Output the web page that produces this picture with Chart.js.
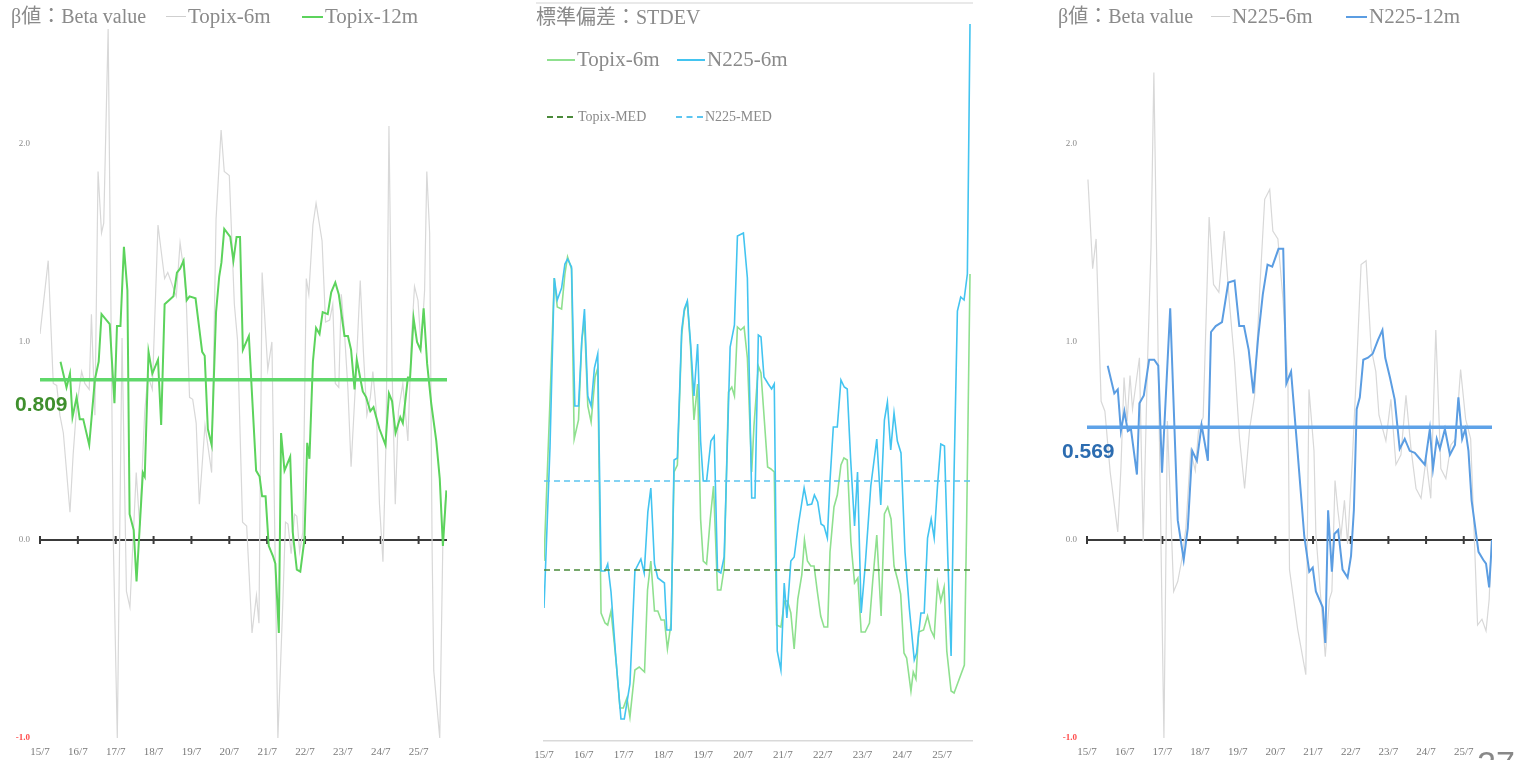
<!DOCTYPE html>
<html>
<head>
<meta charset="utf-8">
<script src="https://cdn.jsdelivr.net/npm/chart.js@4.4.1/dist/chart.umd.min.js"></script>
<style>
body { margin: 0; background: #fff; width: 1520px; height: 760px; overflow: hidden; position: relative; }
canvas { position: absolute; top: 0; }
.t { position: absolute; white-space: nowrap; line-height: 1; color: #8a8a8a; font-family: "Liberation Serif", "Noto Sans CJK JP", serif; }
.k { position: absolute; height: 0; }
</style>
</head>
<body>

<canvas id="beta-topix" width="460" height="760" style="left:0px"></canvas>
<canvas id="stdev" width="470" height="760" style="left:520px"></canvas>
<canvas id="beta-n225" width="473" height="760" style="left:1047px"></canvas>

<!-- leyendas -->
<div class="t" style="left:11px;top:6px;font-size:20px">β値：Beta value</div>
<div class="k" style="left:166px;top:16px;width:20px;border-top:1px solid #cfcfcf"></div>
<div class="t" style="left:188px;top:6px;font-size:21px">Topix-6m</div>
<div class="k" style="left:302px;top:16px;width:21px;border-top:2px solid #5cd35c"></div>
<div class="t" style="left:325px;top:6px;font-size:21px">Topix-12m</div>

<div class="t" style="left:536px;top:7px;font-size:20px">標準偏差：STDEV</div>
<div class="k" style="left:547px;top:59px;width:28px;border-top:2px solid #8fe08f"></div>
<div class="t" style="left:577px;top:49px;font-size:21px">Topix-6m</div>
<div class="k" style="left:677px;top:59px;width:28px;border-top:2px solid #43c4f0"></div>
<div class="t" style="left:707px;top:49px;font-size:21px">N225-6m</div>
<div class="k" style="left:547px;top:116px;width:26px;border-top:2px dashed #4a8a3a"></div>
<div class="t" style="left:578px;top:110px;font-size:14px">Topix-MED</div>
<div class="k" style="left:676px;top:116px;width:27px;border-top:2px dashed #5cc5f0"></div>
<div class="t" style="left:705px;top:110px;font-size:14px">N225-MED</div>

<div class="t" style="left:1058px;top:6px;font-size:20px">β値：Beta value</div>
<div class="k" style="left:1211px;top:16px;width:19px;border-top:1px solid #cfcfcf"></div>
<div class="t" style="left:1232px;top:6px;font-size:21px">N225-6m</div>
<div class="k" style="left:1346px;top:16px;width:21px;border-top:2px solid #5b9de2"></div>
<div class="t" style="left:1369px;top:6px;font-size:21px">N225-12m</div>

<div class="t" style="left:1477px;top:746px;font-size:34px;font-family:'Liberation Sans',sans-serif;color:#888">27</div>

<script>
// Eje x: meses desde 2015/07
var yearTickMonths = [0, 12, 24, 36, 48, 60, 72, 84, 96, 108, 120];
var yearLabels = ['15/7', '16/7', '17/7', '18/7', '19/7', '20/7', '21/7', '22/7', '23/7', '24/7', '25/7'];

// Beta Topix 6m
var topix6mMonths = [0, 2.6, 4.2, 5.3, 6.3, 7.4, 9.5, 10.5, 11.6, 13.2,
    14.2, 15.6, 16.3, 17.4, 18.4, 19.5, 20.2, 21.6, 23.2, 24.5,
    26.0, 27.4, 28.5, 30.5, 31.6, 33.2, 34.2, 35.6, 37.4, 38.4,
    39.5, 40.5, 42.1, 43.2, 44.4, 45.5, 46.3, 47.4, 48.4, 49.5,
    50.5, 52.3, 54.4, 55.8, 57.4, 58.4, 60.0, 61.6, 62.6, 64.2,
    65.5, 66.3, 67.2, 68.6, 69.4, 70.4, 72.2, 73.5, 75.4, 77.0,
    77.8, 78.6, 79.6, 80.7, 81.4, 82.3, 83.3, 84.4, 85.2, 86.5,
    87.5, 89.4, 90.5, 91.8, 92.8, 93.6, 94.7, 95.5, 96.5, 97.6,
    98.6, 100.0, 101.5, 102.5, 103.6, 104.7, 105.5, 106.6, 107.6, 108.7,
    109.7, 110.6, 111.6, 112.6, 113.6, 115.0, 116.6, 117.7, 118.7, 119.8,
    120.8, 121.9, 122.6, 123.5, 124.3, 124.8, 126.7, 127.7, 128.5];
var topix6mValues = [1.04, 1.41, 0.79, 0.78, 0.63, 0.54, 0.14, 0.43, 0.67, 0.85,
    0.79, 0.76, 1.14, 0.63, 1.86, 1.55, 1.60, 2.58, 0.02, -1.0,
    1.02, -0.26, -0.34, 0.34, 0.07, 0.65, 0.83, 0.76, 1.59, 1.46,
    1.32, 1.35, 1.28, 1.23, 1.50, 1.37, 1.24, 0.72, 0.71, 0.59,
    0.18, 0.58, 0.34, 1.62, 2.07, 1.86, 1.84, 1.19, 1.01, 0.09,
    0.07, -0.18, -0.47, -0.28, -0.42, 1.35, 0.86, 1.00, -1.0, -0.30,
    0.09, 0.08, -0.07, 0.13, 0.12, -0.06, 0.04, 1.32, 1.24, 1.59,
    1.70, 1.51, 1.10, 1.11, 1.19, 0.79, 0.77, 1.24, 1.05, 0.76,
    0.37, 0.79, 1.31, 0.95, 0.63, 0.72, 0.85, 0.65, 0.18, -0.11,
    0.52, 2.09, 0.85, 0.18, 0.65, 0.79, 0.50, 1.01, 1.28, 1.21,
    0.97, 1.26, 1.86, 1.55, -0.07, -0.66, -1.0, 0.0, 0.20];

// Beta Topix 12m
var topix12mMonths = [6.5, 8.4, 9.5, 10.3, 11.6, 12.6, 13.7, 15.6, 17.4, 18.6,
    19.5, 22.1, 23.6, 24.4, 25.5, 26.6, 27.7, 28.4, 29.7, 30.6,
    32.6, 33.2, 34.4, 35.6, 37.4, 38.4, 39.5, 42.3, 43.4, 44.4,
    45.5, 46.5, 47.4, 49.3, 51.4, 52.2, 53.2, 54.4, 55.8, 56.8,
    57.5, 58.4, 60.3, 61.3, 62.3, 63.4, 64.3, 66.2, 68.5, 69.6,
    70.4, 71.5, 72.5, 73.8, 74.6, 75.7, 76.4, 77.5, 79.3, 80.1,
    81.4, 82.5, 83.8, 84.7, 85.4, 86.5, 87.5, 88.6, 89.6, 91.2,
    92.3, 93.6, 94.7, 96.5, 97.6, 98.6, 99.7, 100.4, 102.3, 103.4,
    104.7, 105.7, 107.6, 109.5, 110.6, 111.6, 112.7, 114.2, 115.0, 116.6,
    117.3, 118.4, 119.5, 120.6, 121.6, 122.7, 124.0, 125.6, 126.7, 127.7,
    128.8];
var topix12mValues = [0.90, 0.77, 0.84, 0.62, 0.72, 0.61, 0.61, 0.48, 0.81, 0.90,
    1.14, 1.09, 0.69, 1.08, 1.08, 1.48, 1.26, 0.13, 0.05, -0.21,
    0.34, 0.32, 0.95, 0.84, 0.91, 0.58, 1.19, 1.23, 1.35, 1.37,
    1.41, 1.21, 1.23, 1.22, 0.95, 0.93, 0.56, 0.48, 1.15, 1.33,
    1.40, 1.57, 1.53, 1.41, 1.53, 1.53, 0.96, 1.03, 0.35, 0.32,
    0.22, 0.22, -0.03, -0.08, -0.12, -0.47, 0.54, 0.35, 0.42, 0.04,
    -0.15, -0.16, 0.00, 0.49, 0.41, 0.90, 1.07, 1.04, 1.15, 1.14,
    1.25, 1.30, 1.24, 1.03, 1.03, 0.96, 0.76, 0.91, 0.75, 0.72,
    0.65, 0.67, 0.56, 0.48, 0.74, 0.70, 0.54, 0.62, 0.59, 0.82,
    0.82, 1.12, 1.00, 0.96, 1.17, 0.89, 0.69, 0.50, 0.31, -0.03,
    0.25];
var topixBetaMedian = 0.809;

// STDEV Topix 6m
var topixStdMonths = [0, 1.8, 3.1, 4.0, 5.3, 6.3, 7.1, 8.3, 9.1, 10.4,
    11.4, 12.2, 13.2, 14.2, 15.4, 16.2, 17.2, 18.4, 19.2, 20.2,
    21.7, 22.9, 23.9, 25.0, 25.9, 27.4, 28.7, 30.3, 31.2, 32.2,
    33.3, 34.3, 35.3, 36.3, 37.2, 38.3, 39.2, 40.2, 41.5, 42.3,
    43.2, 44.2, 45.2, 46.3, 47.2, 48.0, 49.0, 50.1, 51.1, 52.3,
    53.3, 54.3, 55.6, 56.6, 57.4, 58.3, 59.3, 60.3, 61.3, 62.6,
    63.3, 64.6, 65.4, 66.3, 67.4, 68.4, 69.4, 70.1, 71.4, 72.5,
    73.4, 74.4, 75.4, 76.5, 77.7, 78.5, 79.4, 80.4, 81.4, 82.4,
    83.4, 84.4, 85.5, 86.2, 87.4, 88.4, 89.5, 90.4, 91.4, 92.5,
    93.6, 94.6, 95.6, 96.8, 98.1, 99.1, 100.3, 101.6, 102.6, 103.6,
    104.6, 105.5, 106.6, 107.5, 108.5, 109.3, 110.6, 111.3, 112.1, 112.9,
    114.4, 115.6, 116.6, 117.6, 118.6, 119.6, 120.6, 121.4, 122.7, 123.6,
    124.6, 126.7, 127.4, 128.4];
var topixStdValues = [1.80, 3.40, 4.63, 4.34, 4.32, 4.67, 4.84, 4.72, 3.02, 3.21,
    4.01, 4.20, 3.35, 3.19, 3.64, 3.73, 1.28, 1.18, 1.16, 1.30,
    0.81, 0.33, 0.33, 0.43, 0.24, 0.71, 0.74, 0.69, 1.51, 1.80,
    1.30, 1.30, 1.21, 1.21, 0.92, 1.18, 2.69, 2.76, 4.06, 4.30,
    4.39, 3.92, 3.21, 3.57, 2.22, 1.80, 1.77, 2.22, 2.55, 1.51,
    1.51, 1.73, 3.49, 3.54, 3.45, 4.14, 4.11, 4.14, 3.83, 2.69,
    3.16, 3.75, 3.68, 3.26, 2.74, 2.72, 2.69, 1.16, 1.14, 1.40,
    1.40, 1.28, 0.92, 1.42, 1.66, 2.01, 1.80, 1.75, 1.75, 1.49,
    1.25, 1.14, 1.14, 1.89, 2.34, 2.46, 2.76, 2.83, 2.81, 1.99,
    1.58, 1.63, 1.09, 1.09, 1.18, 1.61, 2.06, 1.25, 2.27, 2.34,
    2.22, 1.75, 1.61, 1.47, 0.88, 0.83, 0.50, 0.69, 0.62, 1.09,
    1.11, 1.25, 1.11, 1.04, 1.58, 1.40, 1.54, 0.90, 0.50, 0.48,
    0.57, 0.76, 2.22, 4.67];

// STDEV N225 6m
var n225StdMonths = [0, 1.8, 3.1, 4.0, 5.3, 6.3, 7.1, 8.3, 9.3, 10.4,
    11.4, 12.2, 13.2, 14.2, 15.2, 16.2, 17.2, 18.4, 19.2, 20.2,
    21.7, 23.2, 24.2, 25.9, 27.4, 29.2, 30.2, 31.3, 32.2, 33.3,
    34.3, 36.3, 37.0, 38.3, 39.2, 40.2, 41.5, 42.3, 43.2, 44.2,
    45.2, 46.3, 47.2, 48.0, 49.0, 50.3, 51.3, 52.3, 53.3, 54.3,
    56.1, 57.4, 58.3, 60.1, 61.3, 62.6, 63.6, 64.6, 65.4, 66.3,
    67.6, 68.6, 69.4, 70.3, 71.4, 72.4, 73.2, 74.4, 75.4, 76.7,
    78.4, 79.4, 80.7, 81.5, 82.5, 83.5, 84.4, 85.4, 86.2, 87.2,
    88.4, 89.5, 90.5, 91.4, 92.4, 93.6, 94.5, 95.6, 96.8, 98.5,
    100.3, 101.5, 102.6, 103.5, 104.5, 105.5, 106.5, 107.6, 108.8, 110.1,
    111.6, 112.3, 113.6, 114.6, 115.6, 116.7, 117.6, 118.6, 119.6, 120.7,
    121.7, 122.7, 123.6, 124.6, 125.6, 126.6, 127.6, 128.4];
var n225StdValues = [1.33, 2.93, 4.63, 4.41, 4.53, 4.77, 4.82, 4.74, 3.35, 3.35,
    4.01, 4.32, 3.45, 3.35, 3.73, 3.87, 1.70, 1.70, 1.77, 1.49,
    0.81, 0.22, 0.22, 0.57, 1.70, 1.82, 1.68, 2.29, 2.53, 1.77,
    1.63, 1.58, 1.11, 1.11, 2.81, 2.83, 4.11, 4.32, 4.40, 3.97,
    3.45, 3.97, 3.00, 2.60, 2.60, 3.00, 3.05, 1.70, 1.68, 1.84,
    3.94, 4.16, 5.05, 5.08, 4.63, 2.43, 2.43, 4.06, 4.04, 3.64,
    3.57, 3.52, 3.57, 0.90, 0.71, 1.58, 1.23, 1.80, 1.84, 2.17,
    2.53, 2.36, 2.37, 2.46, 2.39, 2.17, 2.15, 2.03, 2.60, 3.14,
    3.14, 3.61, 3.54, 3.52, 2.83, 2.15, 2.69, 1.28, 1.75, 2.55,
    3.02, 2.36, 3.21, 3.39, 2.91, 3.28, 3.00, 2.88, 1.89, 1.33,
    0.81, 0.88, 1.28, 1.28, 2.03, 2.22, 2.03, 2.55, 2.97, 2.95,
    1.84, 0.85, 2.69, 4.30, 4.44, 4.41, 4.67, 7.17];
var topixStdMedian = 1.71;
var n225StdMedian = 2.60;

// Beta N225 6m
var n2256mMonths = [0.3, 1.8, 2.9, 4.5, 5.7, 7.4, 9.8, 10.8, 11.8, 12.8,
    13.7, 14.5, 16.7, 17.9, 19.3, 20.4, 21.3, 24.5, 25.6, 27.6,
    28.9, 30.2, 31.5, 33.0, 34.5, 35.5, 37.0, 38.9, 40.3, 42.0,
    43.7, 45.3, 47.0, 48.6, 50.2, 51.8, 53.4, 55.0, 56.6, 58.2,
    59.2, 60.8, 62.4, 64.0, 64.5, 67.1, 69.7, 70.7, 72.3, 72.9,
    75.9, 77.2, 78.0, 79.0, 79.9, 80.9, 82.0, 83.0, 84.5, 85.7,
    87.3, 88.9, 90.5, 92.0, 93.0, 95.2, 96.8, 98.4, 100.0, 101.6,
    103.2, 104.8, 106.4, 108.0, 109.5, 111.1, 112.7, 114.3, 115.9, 117.4,
    119.0, 120.6, 122.2, 124.4, 125.8, 127.1, 128.1, 128.8];
var n2256mValues = [1.82, 1.37, 1.52, 0.70, 0.65, 0.34, 0.04, 0.36, 0.82, 0.60,
    0.83, 0.66, 0.92, -0.01, 0.91, 1.48, 2.36, -1.0, 0.60, -0.26,
    -0.21, -0.10, 0.06, 0.45, 0.35, 0.55, 0.62, 1.63, 1.29, 1.25,
    1.56, 1.21, 0.90, 0.51, 0.26, 0.56, 0.73, 1.26, 1.72, 1.77,
    1.56, 1.52, 1.22, 0.81, -0.15, -0.45, -0.68, 0.76, 0.45, 0.03,
    -0.59, -0.30, -0.26, 0.30, 0.15, 0.02, 0.20, -0.02, 0.40, 0.81,
    1.39, 1.41, 0.97, 0.85, 0.63, 0.50, 0.71, 0.38, 0.43, 0.73,
    0.46, 0.26, 0.21, 0.41, 0.21, 1.06, 0.36, 0.31, 0.48, 0.51,
    0.86, 0.61, 0.51, -0.43, -0.40, -0.46, -0.30, 0.00];

// Beta N225 12m
var n22512mMonths = [6.6, 8.7, 9.8, 10.8, 11.9, 13.0, 14.0, 15.9, 16.7, 18.1,
    19.8, 21.4, 22.7, 23.9, 26.5, 28.9, 30.8, 32.1, 33.5, 35.0,
    36.5, 38.5, 39.5, 41.0, 43.0, 45.0, 47.0, 48.5, 50.0, 51.5,
    53.0, 54.5, 56.0, 57.5, 59.0, 61.0, 62.5, 63.5, 65.0, 67.0,
    69.2, 70.8, 71.9, 72.9, 75.1, 75.9, 76.8, 78.0, 78.8, 80.0,
    81.4, 83.0, 84.1, 85.0, 85.9, 86.9, 88.0, 89.5, 91.0, 92.7,
    94.1, 95.0, 96.5, 98.0, 99.6, 101.2, 102.8, 104.4, 106.0, 107.6,
    109.2, 110.2, 111.4, 112.4, 114.0, 115.6, 117.2, 118.3, 119.5, 120.5,
    121.5, 122.5, 124.7, 126.2, 127.1, 128.1, 129.0];
var n22512mValues = [0.88, 0.74, 0.76, 0.55, 0.65, 0.55, 0.56, 0.33, 0.69, 0.73,
    0.91, 0.91, 0.88, 0.34, 1.17, 0.10, -0.10, 0.06, 0.45, 0.40,
    0.58, 0.40, 1.05, 1.08, 1.10, 1.30, 1.31, 1.08, 1.08, 0.96,
    0.74, 1.02, 1.24, 1.39, 1.38, 1.47, 1.47, 0.79, 0.85, 0.46,
    0.02, -0.16, -0.14, -0.26, -0.34, -0.52, 0.15, -0.16, 0.03, 0.05,
    -0.15, -0.19, -0.08, 0.15, 0.66, 0.72, 0.91, 0.92, 0.94, 1.01,
    1.06, 0.92, 0.82, 0.71, 0.46, 0.51, 0.45, 0.44, 0.41, 0.38,
    0.56, 0.36, 0.51, 0.46, 0.56, 0.43, 0.48, 0.72, 0.51, 0.56,
    0.45, 0.20, -0.06, -0.10, -0.12, -0.24, 0.0];
var n225BetaMedian = 0.569;

var lastMonth = 129;

function toPoints(months, values) {
    return months.map(function (m, i) { return { x: m, y: values[i] }; });
}

function flatLine(value) {
    return [{ x: 0, y: value }, { x: lastMonth, y: value }];
}

function yearLabel(value) {
    var i = yearTickMonths.indexOf(value);
    return i >= 0 ? yearLabels[i] : '';
}

function isMinTick(c) {
    return !!(c && c.tick && c.tick.value === -1);
}

// linea de 0.0 con marcas por año
var zeroAxisPlugin = {
    id: 'zeroAxis',
    beforeDatasetsDraw: function (chart) {
        var ctx = chart.ctx, x = chart.scales.x, y = chart.scales.y;
        var y0 = y.getPixelForValue(0);
        ctx.save();
        ctx.strokeStyle = '#3a3a3a';
        ctx.lineWidth = 2;
        ctx.beginPath();
        ctx.moveTo(x.left, y0);
        ctx.lineTo(x.right, y0);
        yearTickMonths.forEach(function (m) {
            var px = x.getPixelForValue(m);
            ctx.moveTo(px, y0 - 4);
            ctx.lineTo(px, y0 + 4);
        });
        ctx.stroke();
        ctx.restore();
    }
};

// valor de la mediana bajo la linea
var medianLabelPlugin = {
    id: 'medianLabel',
    afterDatasetsDraw: function (chart, args, opts) {
        if (!opts || opts.value === undefined) return;
        var ctx = chart.ctx;
        var py = chart.scales.y.getPixelForValue(opts.value);
        ctx.save();
        ctx.font = 'bold 21px "Liberation Sans", sans-serif';
        ctx.fillStyle = opts.color;
        ctx.textBaseline = 'middle';
        ctx.fillText(opts.value.toFixed(3), chart.chartArea.left - 25, py + 25);
        ctx.restore();
    }
};

var topFramePlugin = {
    id: 'topFrame',
    afterDraw: function (chart) {
        var ctx = chart.ctx, a = chart.chartArea;
        ctx.save();
        ctx.strokeStyle = '#e2e2e2';
        ctx.lineWidth = 1.5;
        ctx.beginPath();
        ctx.moveTo(a.left - 8, a.top);
        ctx.lineTo(a.right + 1, a.top);
        ctx.stroke();
        ctx.restore();
    }
};

function xScale(axisHeight, showBorder, pad) {
    return {
        type: 'linear', min: 0, max: lastMonth,
        grid: { display: false, drawTicks: false },
        border: { display: showBorder, color: '#d9d9d9', width: 1.5 },
        ticks: {
            stepSize: 12, includeBounds: false, autoSkip: false, maxRotation: 0,
            padding: pad, color: '#7a7a7a',
            font: { family: 'Liberation Serif', size: 11 },
            callback: yearLabel
        },
        afterFit: function (s) { s.height = axisHeight; }
    };
}

function betaYScale() {
    return {
        min: -1, max: 2.6,
        grid: { display: false, drawTicks: false },
        border: { display: false },
        ticks: {
            stepSize: 1, includeBounds: false, padding: 10,
            callback: function (v) { return v.toFixed(1); },
            color: function (c) { return isMinTick(c) ? '#ff4b4b' : '#8a8a8a'; },
            font: function (c) {
                return { family: 'Liberation Serif', size: 9, weight: isMinTick(c) ? 'bold' : 'normal' };
            }
        },
        afterFit: function (s) { s.width = 40; }
    };
}

function drawBetaChart(id, m6, v6, m12, v12, median, lineColor, medianColor, textColor, rightPad) {
    var ctx = document.getElementById(id).getContext('2d');
    new Chart(ctx, {
        type: 'line',
        data: {
            datasets: [{
                data: flatLine(median),
                borderColor: medianColor,
                borderWidth: 3.5
            }, {
                data: toPoints(m12, v12),
                borderColor: lineColor,
                borderWidth: 2
            }, {
                data: toPoints(m6, v6),
                borderColor: '#d8d8d8',
                borderWidth: 1.2
            }]
        },
        options: {
            responsive: false,
            animation: false,
            devicePixelRatio: 1,
            layout: { padding: { top: 25, right: rightPad, left: 0, bottom: 0 } },
            elements: { point: { radius: 0 }, line: { tension: 0 } },
            plugins: {
                legend: { display: false },
                tooltip: { enabled: false },
                medianLabel: { value: median, color: textColor }
            },
            scales: { x: xScale(22, false, 8), y: betaYScale() }
        },
        plugins: [zeroAxisPlugin, medianLabelPlugin]
    });
}

function drawStdevChart() {
    var ctx = document.getElementById('stdev').getContext('2d');
    new Chart(ctx, {
        type: 'line',
        data: {
            datasets: [{
                data: flatLine(topixStdMedian),
                borderColor: '#4a8a3a',
                borderWidth: 1.6,
                borderDash: [6, 4]
            }, {
                data: flatLine(n225StdMedian),
                borderColor: '#5cc5f0',
                borderWidth: 1.6,
                borderDash: [6, 4]
            }, {
                data: toPoints(n225StdMonths, n225StdValues),
                borderColor: '#43c4f0',
                borderWidth: 1.6
            }, {
                data: toPoints(topixStdMonths, topixStdValues),
                borderColor: '#8fe08f',
                borderWidth: 1.6
            }]
        },
        options: {
            responsive: false,
            animation: false,
            devicePixelRatio: 1,
            layout: { padding: { top: 3, right: 18, left: 24, bottom: 0 } },
            elements: { point: { radius: 0 }, line: { tension: 0 } },
            plugins: { legend: { display: false }, tooltip: { enabled: false } },
            scales: {
                x: xScale(19, true, 8),
                y: { display: false, min: 0, max: 7.38 }
            }
        },
        plugins: [topFramePlugin]
    });
}

document.addEventListener('DOMContentLoaded', function () {
    drawBetaChart('beta-topix', topix6mMonths, topix6mValues, topix12mMonths, topix12mValues,
        topixBetaMedian, '#5cd35c', '#5fd86a', '#3f8f2d', 13);
    drawStdevChart();
    drawBetaChart('beta-n225', n2256mMonths, n2256mValues, n22512mMonths, n22512mValues,
        n225BetaMedian, '#5b9de2', '#5ea2e8', '#2c6cb0', 28);
});
</script>
</body>
</html>
